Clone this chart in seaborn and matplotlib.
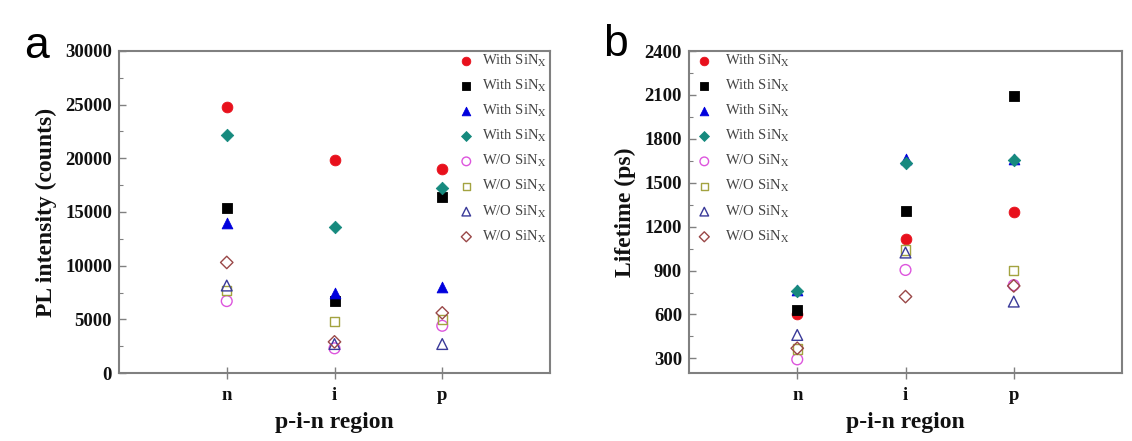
import numpy as np
import pandas as pd
import matplotlib
matplotlib.use("Agg")
import matplotlib.pyplot as plt
import seaborn as sns

# ---------------- data ----------------
regions = ["n", "i", "p"]
region_pos = [1, 2, 3]

labels = ["With SiN$_\\mathrm{X}$"] * 4 + ["W/O SiN$_\\mathrm{X}$"] * 4

# PL intensity (counts)
pl_with_circle = [24800, 19800, 19000]
pl_with_square = [15400, 6700, 16400]
pl_with_triangle = [13950, 7500, 8000]
pl_with_diamond = [22200, 13600, 17200]
pl_wo_circle = [6700, 2300, 4400]
pl_wo_square = [7700, 4800, 5000]
pl_wo_triangle = [8150, 2700, 2700]
pl_wo_diamond = [10300, 2900, 5600]

# Lifetime (ps)
lt_with_circle = [600, 1117, 1297]
lt_with_square = [631, 1310, 2095]
lt_with_triangle = [765, 1662, 1660]
lt_with_diamond = [760, 1635, 1653]
lt_wo_circle = [293, 904, 800]
lt_wo_square = [365, 1040, 900]
lt_wo_triangle = [460, 1023, 688]
lt_wo_diamond = [369, 722, 795]

pl_series = [pl_with_circle, pl_with_square, pl_with_triangle, pl_with_diamond,
             pl_wo_circle, pl_wo_square, pl_wo_triangle, pl_wo_diamond]
lt_series = [lt_with_circle, lt_with_square, lt_with_triangle, lt_with_diamond,
             lt_wo_circle, lt_wo_square, lt_wo_triangle, lt_wo_diamond]

# ---------------- styles ----------------
markers = ["o", "s", "^", "D", "o", "s", "^", "D"]
colors = ["#e8101c", "#000000", "#0000dd", "#168a7e",
          "#dd55dd", "#a3a340", "#3a3a99", "#9a4848"]
filled = [True] * 4 + [False] * 4
sizes = [60, 45, 60, 40, 60, 45, 60, 40]

sns.set_theme(style="white")
plt.rcParams["font.family"] = ["Liberation Serif", "DejaVu Serif"]
plt.rcParams["mathtext.fontset"] = "stix"

fig = plt.figure(figsize=(11.32, 4.41), dpi=100)
fig.patch.set_facecolor("white")

W, H = 1132, 441
def axes_rect(l, r, t, b):
    return [l / W, 1 - b / H, (r - l) / W, (b - t) / H]

ax_a = fig.add_axes(axes_rect(119, 550, 51, 373))
ax_b = fig.add_axes(axes_rect(689, 1122, 51, 373))

def draw(ax, series):
    for vals, m, c, f, s, lab in zip(series, markers, colors, filled, sizes, labels):
        df = pd.DataFrame({"x": region_pos, "y": vals})
        if f:
            sns.scatterplot(data=df, x="x", y="y", ax=ax, marker=m, s=s,
                            facecolor=c, edgecolor=c, linewidth=0.6,
                            label=lab, zorder=3)
        else:
            sns.scatterplot(data=df, x="x", y="y", ax=ax, marker=m, s=s,
                            facecolor="none", edgecolor=c, linewidth=1.0,
                            label=lab, zorder=3)

draw(ax_a, pl_series)
draw(ax_b, lt_series)

def style_axes(ax, ylim, major, minor, ylabel, ypad):
    ax.set_xlim(0, 4)
    ax.set_ylim(*ylim)
    ax.set_xticks(region_pos)
    ax.set_xticklabels(regions)
    ax.set_yticks(np.arange(ylim[0] if ylim[0] % major == 0 else (ylim[0] // major + 1) * major,
                            ylim[1] + 1, major))
    ax.yaxis.set_minor_locator(matplotlib.ticker.MultipleLocator(minor))
    ax.tick_params(axis="y", which="major", direction="in", length=5, width=1,
                   color="#808080", labelsize=13.5, pad=ypad, left=True)
    ax.tick_params(axis="y", which="minor", direction="in", length=3, width=0.8,
                   color="#808080", left=True)
    ax.tick_params(axis="x", which="major", direction="inout", length=8, width=1,
                   color="#808080", labelsize=13.5, pad=6, bottom=True)
    for lab in ax.get_xticklabels() + ax.get_yticklabels():
        lab.set_fontweight("bold")
        lab.set_color("#111111")
    for sp in ax.spines.values():
        sp.set_color("#808080")
        sp.set_linewidth(1.5)
        sp.set_visible(True)
    ax.set_xlabel("p-i-n region", fontsize=17, fontweight="bold", labelpad=6, color="#111111")
    ax.set_ylabel(ylabel, fontsize=17, fontweight="bold", labelpad=6, color="#111111")
    ax.grid(False)

style_axes(ax_a, (0, 30000), 5000, 2500, "PL intensity (counts)", 5)
style_axes(ax_b, (200, 2400), 300, 150, "Lifetime (ps)", 5)

def legend(ax, x0, htp):
    leg = ax.legend(loc="upper left", bbox_to_anchor=(x0, 0.995), frameon=False,
                    fontsize=10.5, handlelength=1.0, handletextpad=htp,
                    borderpad=0, borderaxespad=0, labelspacing=0.62,
                    markerscale=0.8)
    for t in leg.get_texts():
        t.set_color("#444444")
    return leg

legend(ax_a, (466 - 7 - 119) / 431, 0.6)
legend(ax_b, (704 - 7 - 689) / 433, 0.95)

fig.text(36 / W, 1 - 47 / H, "a", fontsize=32, family="Liberation Sans",
         ha="center", va="center", color="black")
fig.text(616 / W, 1 - 45 / H, "b", fontsize=32, family="Liberation Sans",
         ha="center", va="center", color="black")

fig.savefig("out.png", dpi=100, facecolor="white")
